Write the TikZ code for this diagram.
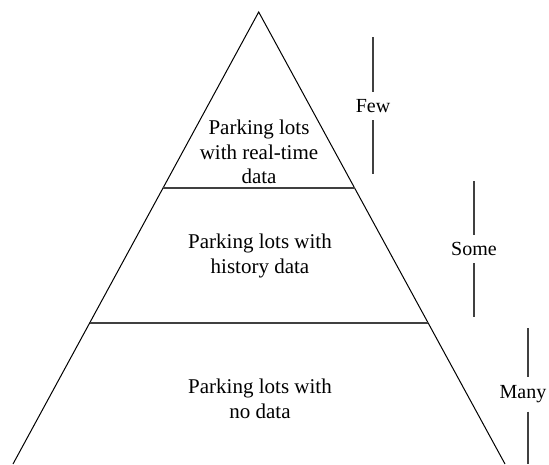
\documentclass[tikz,border=0pt]{standalone}
\usepackage{fontspec}
\setmainfont{Liberation Serif}
\usepackage{xcolor}
\definecolor{pyramidblack}{HTML}{000000}
\definecolor{pyramidgray}{HTML}{404040}
\usepackage{tikz}
\usetikzlibrary{calc}

\tikzset{
  layer/.style={align=center,font=\fontsize{21}{24.5}\selectfont},
  amount/.style={inner sep=0pt,minimum height=28pt,font=\fontsize{20}{24}\selectfont},
  ruler/.style={color=pyramidgray,line width=1.4pt}
}

\begin{document}
\begin{tikzpicture}[x=1pt,y=-1pt]
    \useasboundingbox (0,0) rectangle (549,464);
    % pyramid
    \coordinate (apex) at (258.7,12);
    \coordinate (baseleft) at (13,464);
    \coordinate (baseright) at (505,464);
    \draw[color=pyramidblack,line width=1pt] (baseleft) -- (apex) -- (baseright);
    \coordinate (cutleftA) at ($(apex)!0.389!(baseleft)$);
    \coordinate (cutrightA) at ($(apex)!0.389!(baseright)$);
    \coordinate (cutleftB) at ($(apex)!0.688!(baseleft)$);
    \coordinate (cutrightB) at ($(apex)!0.688!(baseright)$);
    \draw[ruler] (cutleftA) -- (cutrightA);
    \draw[ruler] (cutleftB) -- (cutrightB);
    % layers
    \node[layer] (realtime) at (259,152) {Parking lots\\with real-time\\data};
    \node[layer] (history) at (260,256) {Parking lots with\\history data};
    \node[layer] (nodata) at (260,399) {Parking lots with\\no data};
    % amounts
    \node[amount] (few) at (373,106) {Few};
    \coordinate (fewtop) at (373,37);
    \coordinate (fewbottom) at (373,174);
    \draw[ruler] (fewtop) -- (few);
    \draw[ruler] (few) -- (fewbottom);
    \node[amount] (some) at (474,249) {Some};
    \coordinate (sometop) at (474,181);
    \coordinate (somebottom) at (474,317);
    \draw[ruler] (sometop) -- (some);
    \draw[ruler] (some) -- (somebottom);
    \node[amount,minimum height=34pt] (many) at (523,394.5) {Many};
    \coordinate (manytop) at (528,328);
    \coordinate (manybottom) at (528,464);
    \draw[ruler] (manytop) -- (manytop |- many.north);
    \draw[ruler] (manybottom |- many.south) -- (manybottom);
    %  \draw[color=pyramidblack] (baseleft) -- (baseright);
\end{tikzpicture}
\end{document}
